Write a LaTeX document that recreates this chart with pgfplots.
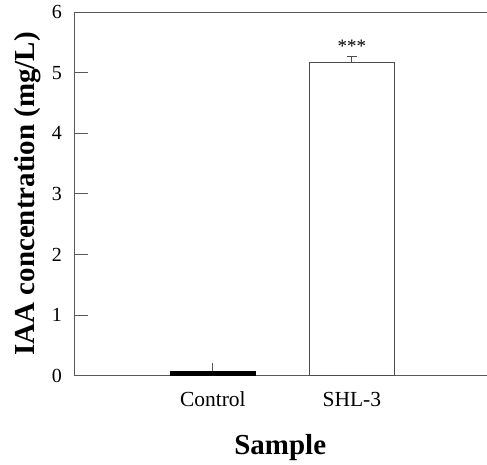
\documentclass[border=0pt]{standalone}
\usepackage{fontspec}
\setmainfont{Liberation Serif}
\usepackage{pgfplots}
\pgfplotsset{compat=1.18}

\begin{document}
\begin{tikzpicture}
\begin{axis}[
  at={(0pt,0pt)}, anchor=south west,
  scale only axis,
  width=413pt, height=364pt,
  xmin=-1, xmax=1.97,
  ymin=0, ymax=6,
  axis x line=box, axis y line=left,
  axis line style={-, draw=black!65, line width=0.8pt},
  xtick={0,1},
  xticklabels={Control, SHL-3},
  major x tick style={draw=none},
  ytick={0,1,2,3,4,5,6},
  tick align=inside,
  major tick length=14pt,
  major y tick style={draw=black!65, line width=0.8pt},
  /pgf/number format/assume math mode=true,
  xticklabel style={font=\fontsize{21.5}{24}\selectfont, anchor=base, inner sep=0pt, yshift=-31pt},
  yticklabel style={font=\fontsize{20}{24}\selectfont, anchor=east, inner sep=0pt, xshift=-12pt},
  xlabel={\textbf{Sample}},
  ylabel={\textbf{IAA concentration (mg/L)}},
  label style={font=\fontsize{29}{32}\selectfont},
  xlabel style={at={(axis description cs:0.5,0)}, anchor=base, yshift=-79pt},
  ylabel style={at={(axis description cs:0,0.5)}, anchor=center, rotate=0, yshift=46pt},
  clip=false,
]
\addplot[ybar, bar width=0.61, bar shift=0pt, fill=black, draw=black,
  error bars/.cd, y dir=plus, y explicit,
  error bar style={draw=black!65, line width=0.8pt}, error mark=none]
  coordinates {(0,0.07) +- (0,0.14)};
\addplot[ybar, bar width=0.61, bar shift=0pt, fill=white, draw=black!70, line width=0.8pt,
  error bars/.cd, y dir=plus, y explicit,
  error bar style={draw=black!70, line width=0.8pt},
  error mark options={rotate=90, mark size=5pt, draw=black!70, line width=0.8pt}]
  coordinates {(1,5.17) +- (0,0.10)};
\node[anchor=base, inner sep=0pt, font=\fontsize{19}{20}\selectfont] at (axis cs:1,5.33) {***};
\end{axis}
\path (-74pt,-87pt) rectangle (413pt,376pt);
\end{tikzpicture}
\end{document}
